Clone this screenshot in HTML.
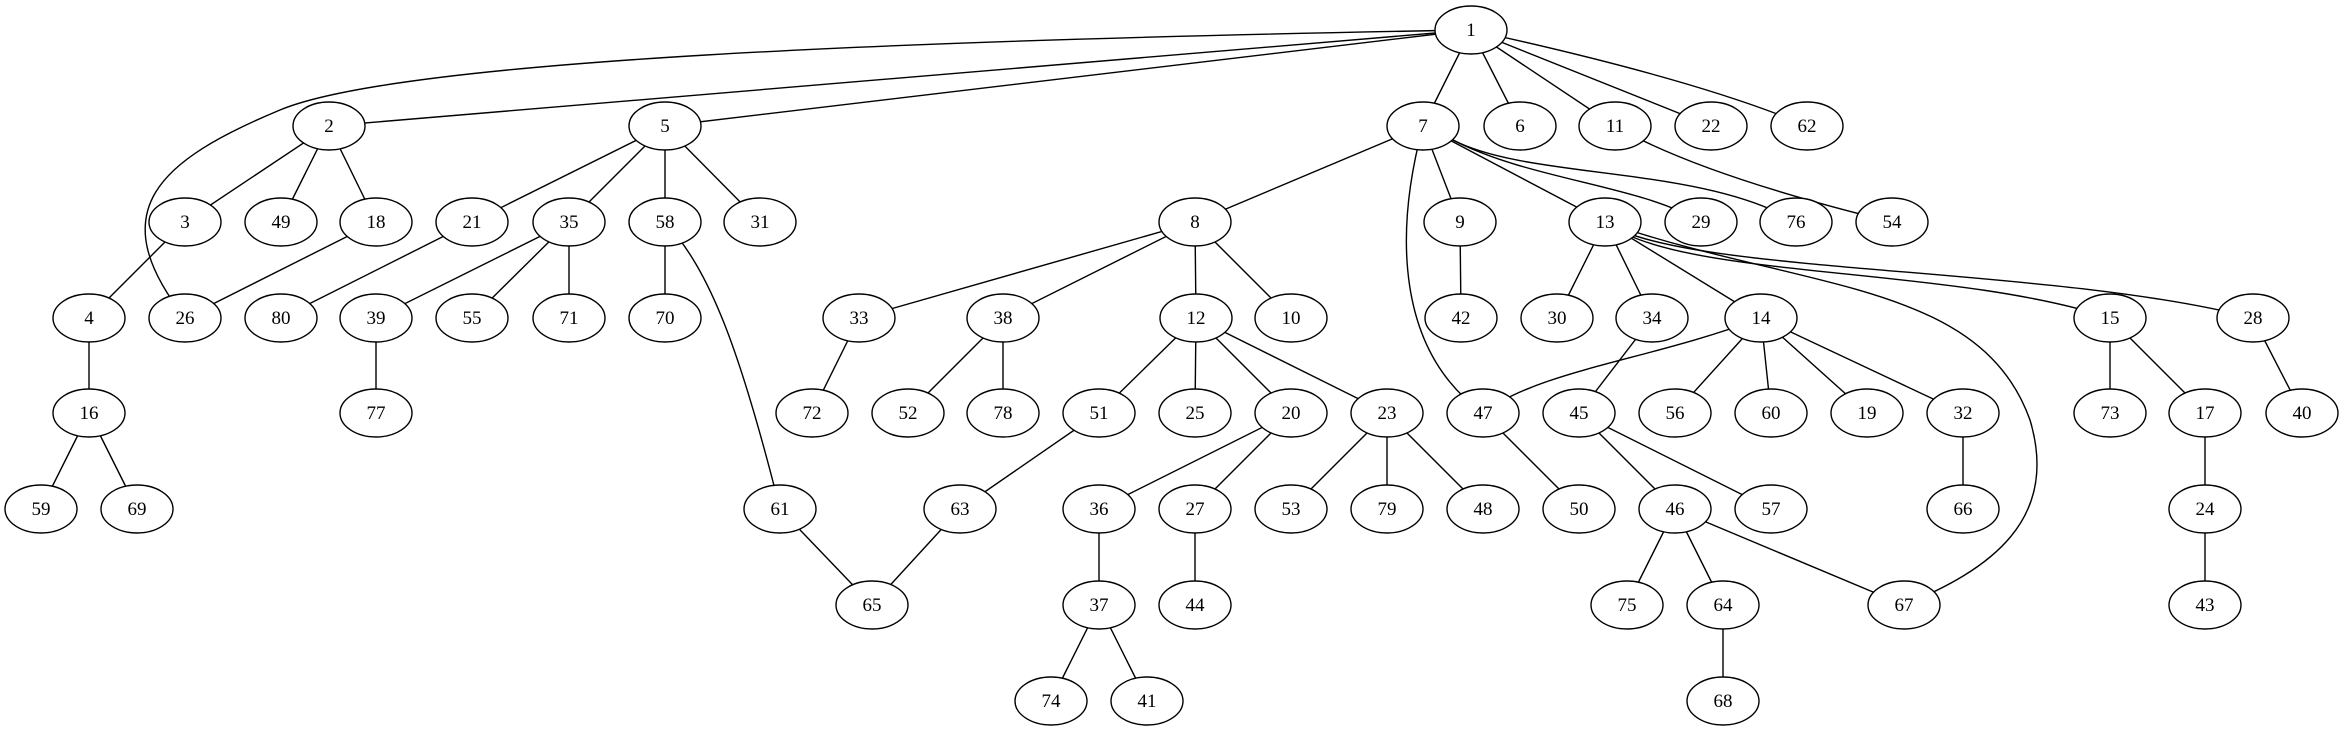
<!DOCTYPE html>
<html><head><meta charset="utf-8"><style>
html,body{margin:0;padding:0;background:#fff;}
svg{display:block;}
text{font-family:"Liberation Serif",serif;font-size:19px;text-anchor:middle;fill:#000;}
ellipse{fill:#fff;stroke:#000;stroke-width:1.4;}
path,line{stroke:#000;stroke-width:1.4;fill:none;}
</style></head><body>
<svg width="2344" height="731" viewBox="0 0 2344 731" xmlns="http://www.w3.org/2000/svg">
<g>
<line x1="1471" y1="30" x2="329" y2="126"/>
<line x1="1471" y1="30" x2="665" y2="126"/>
<path d="M1471 30 C900 40,400 60,280 110 C160 160,100 210,185 318"/>
<line x1="1471" y1="30" x2="1423" y2="126"/>
<line x1="1471" y1="30" x2="1520" y2="126"/>
<line x1="1471" y1="30" x2="1615" y2="126"/>
<line x1="1471" y1="30" x2="1711" y2="126"/>
<path d="M1471 30 Q1700 80 1807 126"/>
<line x1="329" y1="126" x2="185" y2="222"/>
<line x1="329" y1="126" x2="281" y2="222"/>
<line x1="329" y1="126" x2="376" y2="222"/>
<line x1="665" y1="126" x2="472" y2="222"/>
<line x1="665" y1="126" x2="569" y2="222"/>
<line x1="665" y1="126" x2="665" y2="222"/>
<line x1="665" y1="126" x2="760" y2="222"/>
<line x1="185" y1="222" x2="89" y2="318"/>
<line x1="376" y1="222" x2="185" y2="318"/>
<line x1="472" y1="222" x2="281" y2="318"/>
<line x1="569" y1="222" x2="376" y2="318"/>
<line x1="569" y1="222" x2="472" y2="318"/>
<line x1="569" y1="222" x2="569" y2="318"/>
<line x1="665" y1="222" x2="665" y2="318"/>
<path d="M665 222 C710 270,740 350,780 509"/>
<line x1="89" y1="318" x2="89" y2="413"/>
<line x1="376" y1="318" x2="376" y2="413"/>
<line x1="89" y1="413" x2="41" y2="509"/>
<line x1="89" y1="413" x2="137" y2="509"/>
<line x1="780" y1="509" x2="872" y2="605"/>
<line x1="1423" y1="126" x2="1195" y2="222"/>
<line x1="1423" y1="126" x2="1460" y2="222"/>
<line x1="1423" y1="126" x2="1605" y2="222"/>
<path d="M1453 140 C1530 180,1640 185,1701 222"/>
<path d="M1453 140 C1530 180,1700 165,1796 222"/>
<path d="M1423 126 C1395 230,1395 350,1483 413"/>
<path d="M1615 126 Q1700 175 1892 222"/>
<line x1="1195" y1="222" x2="859" y2="318"/>
<line x1="1195" y1="222" x2="1003" y2="318"/>
<line x1="1195" y1="222" x2="1196" y2="318"/>
<line x1="1195" y1="222" x2="1291" y2="318"/>
<line x1="1460" y1="222" x2="1461" y2="318"/>
<line x1="1605" y1="222" x2="1557" y2="318"/>
<line x1="1605" y1="222" x2="1652" y2="318"/>
<line x1="1605" y1="222" x2="1761" y2="318"/>
<path d="M1605 222 C1680 280,1950 265,2110 318"/>
<path d="M1605 222 C1680 275,2050 265,2253 318"/>
<path d="M1605 222 C1800 290,1980 280,2030 420 C2060 520,1990 570,1904 605"/>
<line x1="859" y1="318" x2="812" y2="413"/>
<line x1="1003" y1="318" x2="908" y2="413"/>
<line x1="1003" y1="318" x2="1003" y2="413"/>
<line x1="1196" y1="318" x2="1099" y2="413"/>
<line x1="1196" y1="318" x2="1195" y2="413"/>
<line x1="1196" y1="318" x2="1291" y2="413"/>
<line x1="1196" y1="318" x2="1387" y2="413"/>
<line x1="1652" y1="318" x2="1579" y2="413"/>
<path d="M1761 318 C1650 360,1540 370,1483 413"/>
<line x1="1761" y1="318" x2="1675" y2="413"/>
<line x1="1761" y1="318" x2="1771" y2="413"/>
<line x1="1761" y1="318" x2="1867" y2="413"/>
<line x1="1761" y1="318" x2="1963" y2="413"/>
<line x1="2110" y1="318" x2="2110" y2="413"/>
<line x1="2110" y1="318" x2="2205" y2="413"/>
<line x1="2253" y1="318" x2="2302" y2="413"/>
<line x1="1099" y1="413" x2="960" y2="509"/>
<line x1="1291" y1="413" x2="1099" y2="509"/>
<line x1="1291" y1="413" x2="1195" y2="509"/>
<line x1="1387" y1="413" x2="1291" y2="509"/>
<line x1="1387" y1="413" x2="1387" y2="509"/>
<line x1="1387" y1="413" x2="1483" y2="509"/>
<line x1="1483" y1="413" x2="1579" y2="509"/>
<line x1="1579" y1="413" x2="1675" y2="509"/>
<line x1="1579" y1="413" x2="1771" y2="509"/>
<line x1="1963" y1="413" x2="1963" y2="509"/>
<line x1="2205" y1="413" x2="2205" y2="509"/>
<line x1="960" y1="509" x2="872" y2="605"/>
<line x1="1099" y1="509" x2="1099" y2="605"/>
<line x1="1195" y1="509" x2="1195" y2="605"/>
<line x1="1675" y1="509" x2="1627" y2="605"/>
<line x1="1675" y1="509" x2="1723" y2="605"/>
<line x1="1675" y1="509" x2="1904" y2="605"/>
<line x1="2205" y1="509" x2="2205" y2="605"/>
<line x1="1099" y1="605" x2="1051" y2="701"/>
<line x1="1099" y1="605" x2="1147" y2="701"/>
<line x1="1723" y1="605" x2="1723" y2="701"/>
</g>
<g>
<ellipse cx="1471" cy="30" rx="36" ry="24"/><text x="1471" y="36">1</text>
<ellipse cx="329" cy="126" rx="36" ry="24"/><text x="329" y="132">2</text>
<ellipse cx="665" cy="126" rx="36" ry="24"/><text x="665" y="132">5</text>
<ellipse cx="1423" cy="126" rx="36" ry="24"/><text x="1423" y="132">7</text>
<ellipse cx="1520" cy="126" rx="36" ry="24"/><text x="1520" y="132">6</text>
<ellipse cx="1615" cy="126" rx="36" ry="24"/><text x="1615" y="132">11</text>
<ellipse cx="1711" cy="126" rx="36" ry="24"/><text x="1711" y="132">22</text>
<ellipse cx="1807" cy="126" rx="36" ry="24"/><text x="1807" y="132">62</text>
<ellipse cx="185" cy="222" rx="36" ry="24"/><text x="185" y="228">3</text>
<ellipse cx="281" cy="222" rx="36" ry="24"/><text x="281" y="228">49</text>
<ellipse cx="376" cy="222" rx="36" ry="24"/><text x="376" y="228">18</text>
<ellipse cx="472" cy="222" rx="36" ry="24"/><text x="472" y="228">21</text>
<ellipse cx="569" cy="222" rx="36" ry="24"/><text x="569" y="228">35</text>
<ellipse cx="665" cy="222" rx="36" ry="24"/><text x="665" y="228">58</text>
<ellipse cx="760" cy="222" rx="36" ry="24"/><text x="760" y="228">31</text>
<ellipse cx="1195" cy="222" rx="36" ry="24"/><text x="1195" y="228">8</text>
<ellipse cx="1460" cy="222" rx="36" ry="24"/><text x="1460" y="228">9</text>
<ellipse cx="1605" cy="222" rx="36" ry="24"/><text x="1605" y="228">13</text>
<ellipse cx="1701" cy="222" rx="36" ry="24"/><text x="1701" y="228">29</text>
<ellipse cx="1796" cy="222" rx="36" ry="24"/><text x="1796" y="228">76</text>
<ellipse cx="1892" cy="222" rx="36" ry="24"/><text x="1892" y="228">54</text>
<ellipse cx="89" cy="318" rx="36" ry="24"/><text x="89" y="324">4</text>
<ellipse cx="185" cy="318" rx="36" ry="24"/><text x="185" y="324">26</text>
<ellipse cx="281" cy="318" rx="36" ry="24"/><text x="281" y="324">80</text>
<ellipse cx="376" cy="318" rx="36" ry="24"/><text x="376" y="324">39</text>
<ellipse cx="472" cy="318" rx="36" ry="24"/><text x="472" y="324">55</text>
<ellipse cx="569" cy="318" rx="36" ry="24"/><text x="569" y="324">71</text>
<ellipse cx="665" cy="318" rx="36" ry="24"/><text x="665" y="324">70</text>
<ellipse cx="859" cy="318" rx="36" ry="24"/><text x="859" y="324">33</text>
<ellipse cx="1003" cy="318" rx="36" ry="24"/><text x="1003" y="324">38</text>
<ellipse cx="1196" cy="318" rx="36" ry="24"/><text x="1196" y="324">12</text>
<ellipse cx="1291" cy="318" rx="36" ry="24"/><text x="1291" y="324">10</text>
<ellipse cx="1461" cy="318" rx="36" ry="24"/><text x="1461" y="324">42</text>
<ellipse cx="1557" cy="318" rx="36" ry="24"/><text x="1557" y="324">30</text>
<ellipse cx="1652" cy="318" rx="36" ry="24"/><text x="1652" y="324">34</text>
<ellipse cx="1761" cy="318" rx="36" ry="24"/><text x="1761" y="324">14</text>
<ellipse cx="2110" cy="318" rx="36" ry="24"/><text x="2110" y="324">15</text>
<ellipse cx="2253" cy="318" rx="36" ry="24"/><text x="2253" y="324">28</text>
<ellipse cx="89" cy="413" rx="36" ry="24"/><text x="89" y="419">16</text>
<ellipse cx="376" cy="413" rx="36" ry="24"/><text x="376" y="419">77</text>
<ellipse cx="812" cy="413" rx="36" ry="24"/><text x="812" y="419">72</text>
<ellipse cx="908" cy="413" rx="36" ry="24"/><text x="908" y="419">52</text>
<ellipse cx="1003" cy="413" rx="36" ry="24"/><text x="1003" y="419">78</text>
<ellipse cx="1099" cy="413" rx="36" ry="24"/><text x="1099" y="419">51</text>
<ellipse cx="1195" cy="413" rx="36" ry="24"/><text x="1195" y="419">25</text>
<ellipse cx="1291" cy="413" rx="36" ry="24"/><text x="1291" y="419">20</text>
<ellipse cx="1387" cy="413" rx="36" ry="24"/><text x="1387" y="419">23</text>
<ellipse cx="1483" cy="413" rx="36" ry="24"/><text x="1483" y="419">47</text>
<ellipse cx="1579" cy="413" rx="36" ry="24"/><text x="1579" y="419">45</text>
<ellipse cx="1675" cy="413" rx="36" ry="24"/><text x="1675" y="419">56</text>
<ellipse cx="1771" cy="413" rx="36" ry="24"/><text x="1771" y="419">60</text>
<ellipse cx="1867" cy="413" rx="36" ry="24"/><text x="1867" y="419">19</text>
<ellipse cx="1963" cy="413" rx="36" ry="24"/><text x="1963" y="419">32</text>
<ellipse cx="2110" cy="413" rx="36" ry="24"/><text x="2110" y="419">73</text>
<ellipse cx="2205" cy="413" rx="36" ry="24"/><text x="2205" y="419">17</text>
<ellipse cx="2302" cy="413" rx="36" ry="24"/><text x="2302" y="419">40</text>
<ellipse cx="41" cy="509" rx="36" ry="24"/><text x="41" y="515">59</text>
<ellipse cx="137" cy="509" rx="36" ry="24"/><text x="137" y="515">69</text>
<ellipse cx="780" cy="509" rx="36" ry="24"/><text x="780" y="515">61</text>
<ellipse cx="960" cy="509" rx="36" ry="24"/><text x="960" y="515">63</text>
<ellipse cx="1099" cy="509" rx="36" ry="24"/><text x="1099" y="515">36</text>
<ellipse cx="1195" cy="509" rx="36" ry="24"/><text x="1195" y="515">27</text>
<ellipse cx="1291" cy="509" rx="36" ry="24"/><text x="1291" y="515">53</text>
<ellipse cx="1387" cy="509" rx="36" ry="24"/><text x="1387" y="515">79</text>
<ellipse cx="1483" cy="509" rx="36" ry="24"/><text x="1483" y="515">48</text>
<ellipse cx="1579" cy="509" rx="36" ry="24"/><text x="1579" y="515">50</text>
<ellipse cx="1675" cy="509" rx="36" ry="24"/><text x="1675" y="515">46</text>
<ellipse cx="1771" cy="509" rx="36" ry="24"/><text x="1771" y="515">57</text>
<ellipse cx="1963" cy="509" rx="36" ry="24"/><text x="1963" y="515">66</text>
<ellipse cx="2205" cy="509" rx="36" ry="24"/><text x="2205" y="515">24</text>
<ellipse cx="872" cy="605" rx="36" ry="24"/><text x="872" y="611">65</text>
<ellipse cx="1099" cy="605" rx="36" ry="24"/><text x="1099" y="611">37</text>
<ellipse cx="1195" cy="605" rx="36" ry="24"/><text x="1195" y="611">44</text>
<ellipse cx="1627" cy="605" rx="36" ry="24"/><text x="1627" y="611">75</text>
<ellipse cx="1723" cy="605" rx="36" ry="24"/><text x="1723" y="611">64</text>
<ellipse cx="1904" cy="605" rx="36" ry="24"/><text x="1904" y="611">67</text>
<ellipse cx="2205" cy="605" rx="36" ry="24"/><text x="2205" y="611">43</text>
<ellipse cx="1051" cy="701" rx="36" ry="24"/><text x="1051" y="707">74</text>
<ellipse cx="1147" cy="701" rx="36" ry="24"/><text x="1147" y="707">41</text>
<ellipse cx="1723" cy="701" rx="36" ry="24"/><text x="1723" y="707">68</text>
</g>
</svg>
</body></html>
